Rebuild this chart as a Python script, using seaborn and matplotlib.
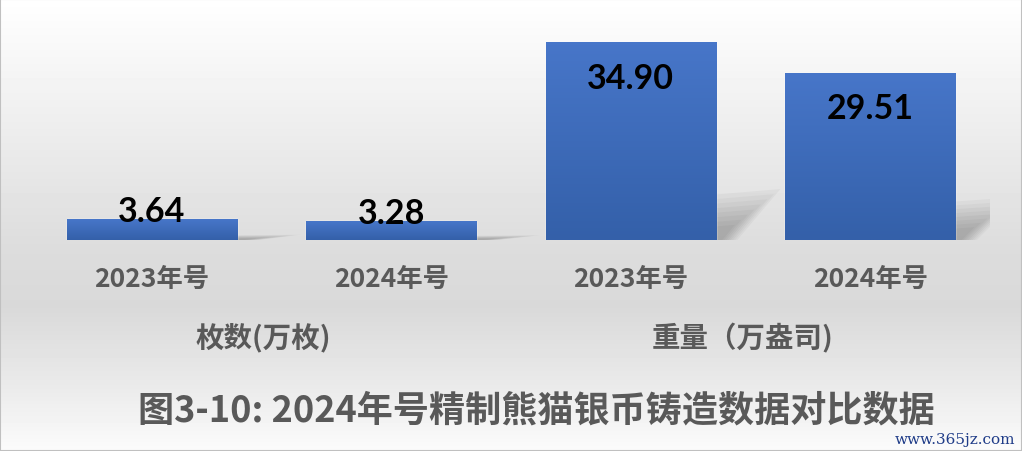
import numpy as np
import pandas as pd
import seaborn as sns
import matplotlib.pyplot as plt
import matplotlib.transforms as mtransforms
from matplotlib.colors import LinearSegmentedColormap
from matplotlib.patches import Rectangle, Polygon

# chart data
groups = ["枚数(万枚)", "枚数(万枚)", "重量（万盎司)", "重量（万盎司)"]
years = ["2023年号", "2024年号", "2023年号", "2024年号"]
values = [3.64, 3.28, 34.90, 29.51]
title = "图3-10: 2024年号精制熊猫银币铸造数据对比数据"
watermark = "www.365jz.com"

sns.set_theme(style="white")
plt.rcParams['font.family'] = ['Noto Sans CJK SC', 'DejaVu Sans']

fig = plt.figure(figsize=(10.22, 4.52), dpi=100)

# background gradient (white -> gray -> light)
bg = fig.add_axes([0, 0, 1, 1], zorder=0)
grad = np.interp(np.linspace(0, 1, 452), [0, 0.55, 0.68, 0.86, 1],
                 [1.0, 0.865, 0.85, 0.92, 0.985])
bg.imshow(grad[:, None], aspect='auto', cmap='gray', vmin=0, vmax=1,
          extent=[0, 1, 0, 1])
bg.axis('off')

ax = fig.add_axes([32 / 1022, 211 / 452, 958 / 1022, 215.5 / 452], zorder=1)
ax.patch.set_alpha(0)

df = pd.DataFrame({"pos": range(len(values)), "year": years,
                   "group": groups, "value": values})
sns.barplot(data=df, x="pos", y="value", color="#3f6bbf", width=0.71,
            saturation=1, ax=ax, zorder=3)
bars = list(ax.patches)

# soft shadows to the right of each bar, scaled with bar height
for p in bars:
    xr = p.get_x() + p.get_width()
    hs = p.get_height() * 0.23
    for s in np.linspace(0.3, 1.0, 8):
        ax.add_patch(Polygon([(xr, 0), (xr, hs * s), (xr + 0.27 * s, hs * s * 1.12),
                              (xr + 0.09 * s, 0)], closed=True, color="black",
                             alpha=0.03, lw=0, zorder=2))

# gradient fill inside bars
bar_cmap = LinearSegmentedColormap.from_list("bar", ["#3460a9", "#4776c9"])
for p in bars:
    x0, w, h = p.get_x(), p.get_width(), p.get_height()
    im = ax.imshow(np.linspace(0, 1, 64)[:, None], cmap=bar_cmap, origin='lower',
                   aspect='auto', extent=[x0, x0 + w, 0, h], zorder=4)
    im.set_clip_path(p)

ax.set_xlim(-0.5, 3.5)
ax.set_ylim(0, 38)

# value labels
for p, v in zip(bars, values):
    cx = p.get_x() + p.get_width() / 2
    if v > 10:
        ax.annotate(f"{v:.2f}", (cx, v), xytext=(0, -14), textcoords='offset points',
                    ha='center', va='top', fontsize=24.5, fontweight='bold',
                    color='black', family=['Lato', 'DejaVu Sans'], zorder=6)
    else:
        ax.annotate(f"{v:.2f}", (cx, v), xytext=(0, -1.5), textcoords='offset points',
                    ha='center', va='baseline', fontsize=24.5, fontweight='bold',
                    color='black', family=['Lato', 'DejaVu Sans'], zorder=6)

ax.set_xticks(range(len(years)))
ax.set_xticklabels(years, fontsize=19, fontweight='bold', color='#595959')
ax.tick_params(axis='x', length=0, pad=18)
ax.set_yticks([])
ax.set_xlabel('')
ax.set_ylabel('')
sns.despine(ax=ax, left=True, bottom=True)

# group labels under the tick labels
trans = mtransforms.blended_transform_factory(ax.transData, fig.transFigure)
for g in dict.fromkeys(groups):
    center = np.mean([i for i, name in enumerate(groups) if name == g])
    ax.annotate(g, (center, 1 - 338 / 452), xycoords=trans, xytext=(-6, 0),
                textcoords='offset points', ha='center', va='center',
                fontsize=20.5, fontweight='bold', color='#595959')

fig.text(536 / 1022, 1 - 411 / 452, title, ha='center', va='center',
         fontsize=26, fontweight='bold', color='#595959')
fig.text(0.993, 1 - 440 / 452, watermark, ha='right', va='center',
         fontsize=11, family='DejaVu Serif', color='#1f3c88')

fig.add_artist(Rectangle((0, 0), 1, 1, transform=fig.transFigure, fill=False,
                         edgecolor='#c0c0c0', lw=1.5))

fig.savefig('out.png', dpi=100)
